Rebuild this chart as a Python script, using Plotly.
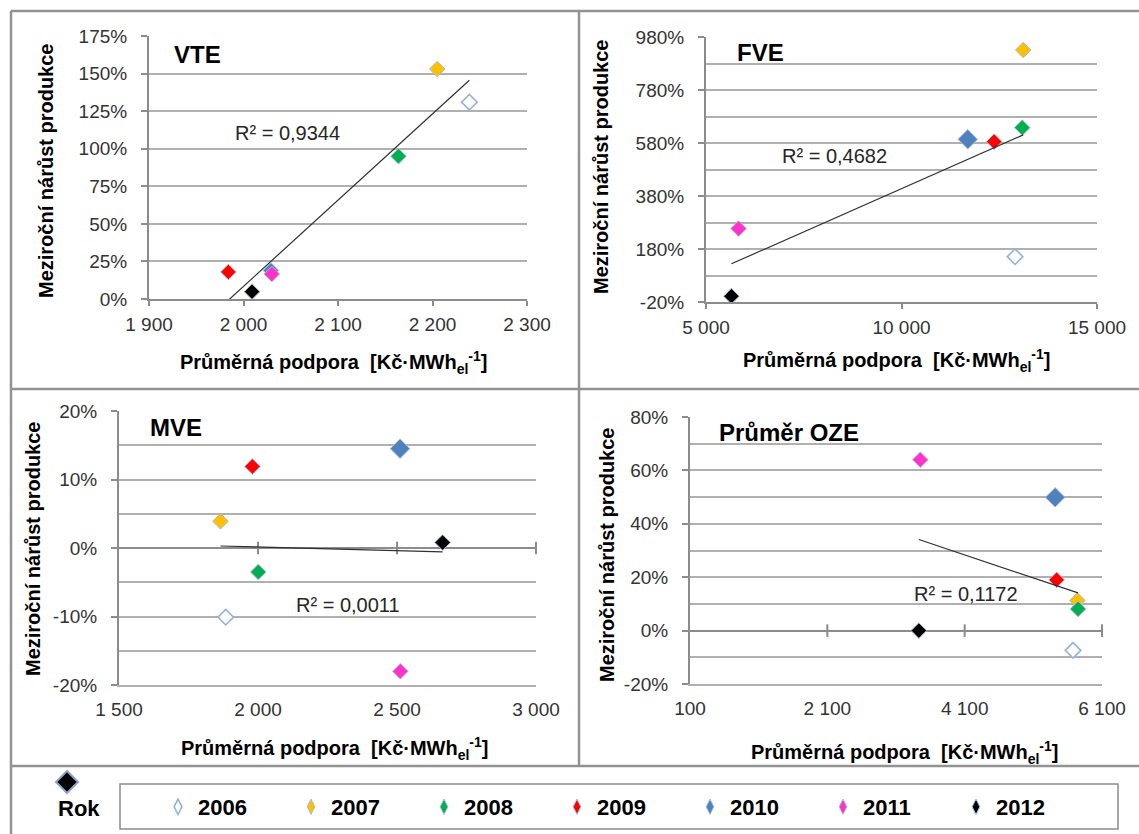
import numpy as np
import plotly.graph_objects as go

W, H = 1139, 834

# ---- data -------------------------------------------------------------
years = ["2006", "2007", "2008", "2009", "2010", "2011", "2012"]

# average support [Kč/MWh_el] and year-on-year growth of production [%]
vte_support = [2239, 2205, 2164, 1984, 2029, 2030, 2009]
vte_growth = [131, 153, 95, 18, 19, 16.6, 4.9]

fve_support = [12904, 13113, 13088, 12371, 11695, 5833, 5650]
fve_growth = [151, 931, 638, 585, 594, 257, 2]

mve_support = [1884, 1865, 2001, 1980, 2511, 2512, 2664]
mve_growth = [-10.1, 3.9, -3.5, 11.9, 14.5, -18.0, 0.8]

oze_support = [5678, 5741, 5751, 5439, 5418, 3454, 3433]
oze_growth = [-7.4, 11.3, 8.1, 19.0, 49.9, 64.0, 0.0]

panel_titles = ["VTE", "FVE", "MVE", "Průměr OZE"]
r2_labels = ["R² = 0,9344", "R² = 0,4682", "R² = 0,0011", "R² = 0,1172"]

x_title = "Průměrná podpora  [Kč·MWh<sub>el</sub><sup>-1</sup>]"
y_title = "Meziroční nárůst produkce"

# ---- styling ------------------------------------------------------------
FONT = "Liberation Sans, Arial, sans-serif"
fill_colors = ["#FFFFFF", "#FFC000", "#00B050", "#FF0000", "#4F81BD", "#FF33CC", "#000000"]
edge_colors = ["#95B3D7", "#A9BCDC", "#A9BCDC", "#A9BCDC", "#A9BCDC", "#A9BCDC", "#A9BCDC"]
edge_widths = [1.6, 1, 1, 1, 1, 1, 1]
AXIS = "#8C8C8C"
GRID = "#B0B0B0"
FRAME = "#929292"
TICK_FONT = dict(family=FONT, size=19, color="#333333")


def fx(px):
    return px / W


def fy(py):
    return 1 - py / H


def num_label(v):
    return "{:,}".format(v).replace(",", " ")


def pct_label(v):
    return "%d%%" % v


# panel geometry in pixels and axis settings
panels = [
    dict(xd=(149, 527), yd=(36, 299), xr=[1900, 2300], xt=[1900, 2000, 2100, 2200, 2300],
         yr=[0, 175], yt=[0, 25, 50, 75, 100, 125, 150, 175], ym=[], zero=False,
         title=(172, 54), r2=(233, 133), xtitle=(333, 362), ytitle=(46, 171)),
    dict(xd=(706, 1097), yd=(37, 302), xr=[5000, 15000], xt=[5000, 10000, 15000],
         yr=[-20, 980], yt=[-20, 180, 380, 580, 780, 980], ym=[80, 280, 480, 680, 880], zero=False,
         title=(735, 52), r2=(780, 156), xtitle=(896, 360), ytitle=(601, 167)),
    dict(xd=(119, 536), yd=(411, 685), xr=[1500, 3000], xt=[1500, 2000, 2500, 3000],
         yr=[-20, 20], yt=[-20, -10, 0, 10, 20], ym=[-15, -5, 5, 15], zero=True,
         title=(148, 427), r2=(294, 605), xtitle=(334, 748), ytitle=(33, 549)),
    dict(xd=(690, 1102), yd=(417, 684), xr=[100, 6100], xt=[100, 2100, 4100, 6100],
         yr=[-20, 80], yt=[-20, 0, 20, 40, 60, 80], ym=[-10, 10, 30, 50, 70], zero=True,
         title=(717, 432), r2=(912, 594), xtitle=(904, 752), ytitle=(607, 555)),
]

series = [
    (vte_support, vte_growth),
    (fve_support, fve_growth),
    (mve_support, mve_growth),
    (oze_support, oze_growth),
]

fig = go.Figure()
annotations = []
shapes = []
axes_layout = {}

for i, (p, (xs, ys)) in enumerate(zip(panels, series)):
    sfx = "" if i == 0 else str(i + 1)
    xref, yref = "x" + sfx, "y" + sfx
    has_zero_axis = p["zero"]

    # small tick marks on the horizontal axis that crosses at 0 %
    if has_zero_axis:
        zt = p["xt"][1:]
        fig.add_trace(go.Scatter(
            x=zt, y=[0] * len(zt), xaxis=xref, yaxis=yref, mode="markers",
            marker=dict(symbol="line-ns", size=9, line=dict(color=AXIS, width=2)),
            showlegend=False, hoverinfo="skip", cliponaxis=False,
        ))

    # one trace per year so each year keeps its own marker style
    for k, yr in enumerate(years):
        size = 15 if (yr == "2010" and i > 0) else 12
        fig.add_trace(go.Scatter(
            x=[xs[k]], y=[ys[k]], xaxis=xref, yaxis=yref, mode="markers",
            marker=dict(symbol="diamond", size=size, color=fill_colors[k],
                        line=dict(color=edge_colors[k], width=edge_widths[k])),
            legendgroup=yr, showlegend=False, name=yr,
        ))

    # linear trendline fitted to the panel's points
    slope, icpt = np.polyfit(xs, ys, 1)
    tx = np.array([min(xs), max(xs)], dtype=float)
    fig.add_trace(go.Scatter(
        x=tx, y=slope * tx + icpt, xaxis=xref, yaxis=yref, mode="lines",
        line=dict(color="#303030", width=1.2), showlegend=False, hoverinfo="skip",
    ))

    xa = dict(
        domain=[fx(p["xd"][0]), fx(p["xd"][1])], anchor=yref, range=p["xr"],
        tickmode="array", tickvals=p["xt"], ticktext=[num_label(v) for v in p["xt"]],
        showgrid=False, zeroline=False,
        showline=True, linecolor=GRID if has_zero_axis else AXIS, linewidth=2,
        ticks="" if has_zero_axis else "outside", ticklen=5, tickwidth=2, tickcolor=AXIS,
        ticklabelstandoff=6 if has_zero_axis else 2,
        tickfont=TICK_FONT,
    )
    ya = dict(
        domain=[fy(p["yd"][1]), fy(p["yd"][0])], anchor=xref, range=p["yr"],
        tickmode="array", tickvals=p["yt"], ticktext=[pct_label(v) for v in p["yt"]],
        showgrid=True, gridcolor=GRID, gridwidth=1.5,
        zeroline=has_zero_axis, zerolinecolor=AXIS, zerolinewidth=2,
        showline=True, linecolor=AXIS, linewidth=2,
        ticks="outside", ticklen=6, tickwidth=2, tickcolor=AXIS,
        ticklabelstandoff=10,
        tickfont=TICK_FONT,
    )
    if p["ym"]:
        ya["minor"] = dict(tickmode="array", tickvals=p["ym"], showgrid=True,
                           gridcolor=GRID, gridwidth=1.5)
    axes_layout["xaxis" + sfx] = xa
    axes_layout["yaxis" + sfx] = ya

    annotations += [
        dict(text="<b>%s</b>" % panel_titles[i], x=fx(p["title"][0]), y=fy(p["title"][1]),
             xref="paper", yref="paper", showarrow=False,
             xanchor="left", yanchor="middle", font=dict(family=FONT, size=24, color="#000000")),
        dict(text=r2_labels[i], x=fx(p["r2"][0]), y=fy(p["r2"][1]),
             xref="paper", yref="paper", showarrow=False,
             xanchor="left", yanchor="middle", font=dict(family=FONT, size=20, color="#262626")),
        dict(text="<b>%s</b>" % x_title, x=fx(p["xtitle"][0]), y=fy(p["xtitle"][1]),
             xref="paper", yref="paper", showarrow=False,
             xanchor="center", yanchor="middle", font=dict(family=FONT, size=20, color="#000000")),
        dict(text="<b>%s</b>" % y_title, x=fx(p["ytitle"][0]), y=fy(p["ytitle"][1]),
             xref="paper", yref="paper", showarrow=False,
             textangle=-90, xanchor="center", yanchor="middle",
             font=dict(family=FONT, size=20, color="#000000")),
    ]

# legend entries (narrow diamonds)
for k, yr in enumerate(years):
    fig.add_trace(go.Scatter(
        x=[None], y=[None], mode="markers", name="<b>%s</b>" % yr, legendgroup=yr,
        showlegend=True,
        marker=dict(symbol="diamond-tall", size=11, color=fill_colors[k],
                    line=dict(color=edge_colors[k], width=edge_widths[k])),
    ))

# frame lines between panels
frame = [
    (11, 11, 11, H), (11, 11, W, 11), (579, 11, 579, 766),
    (11, 389, W, 389), (11, 766, W, 766),
]
for x0, y0, x1, y1 in frame:
    shapes.append(dict(type="line", xref="paper", yref="paper",
                       x0=fx(x0), y0=fy(y0), x1=fx(x1), y1=fy(y1),
                       line=dict(color=FRAME, width=2.5)))

# legend box
shapes.append(dict(type="rect", xref="paper", yref="paper",
                   x0=fx(120), y0=fy(829), x1=fx(1118), y1=fy(784),
                   line=dict(color="#8C8C8C", width=1.5)))

# key glyph above the legend caption
cx, cy, r = 67, 782, 11
shapes.append(dict(
    type="path", xref="paper", yref="paper",
    path="M %f %f L %f %f L %f %f L %f %f Z" % (
        fx(cx - r), fy(cy), fx(cx), fy(cy - r), fx(cx + r), fy(cy), fx(cx), fy(cy + r)),
    fillcolor="#000000", line=dict(color="#8EA3C8", width=2)))

annotations.append(dict(text="<b>Rok</b>", x=fx(79), y=fy(808), xref="paper", yref="paper",
                        showarrow=False, xanchor="center", yanchor="middle",
                        font=dict(family=FONT, size=22, color="#000000")))

fig.update_layout(axes_layout)
fig.update_layout(
    width=W, height=H, margin=dict(l=0, r=0, t=0, b=0, autoexpand=False),
    paper_bgcolor="#FFFFFF", plot_bgcolor="rgba(0,0,0,0)",
    font=dict(family=FONT, color="#333333"),
    showlegend=True,
    legend=dict(orientation="h", x=fx(158), xanchor="left", y=fy(807), yanchor="middle",
                entrywidth=88, traceorder="normal",
                bgcolor="rgba(0,0,0,0)", borderwidth=0,
                font=dict(family=FONT, size=22, color="#000000")),
    annotations=annotations,
    shapes=shapes,
)

fig.write_html("out.html")
